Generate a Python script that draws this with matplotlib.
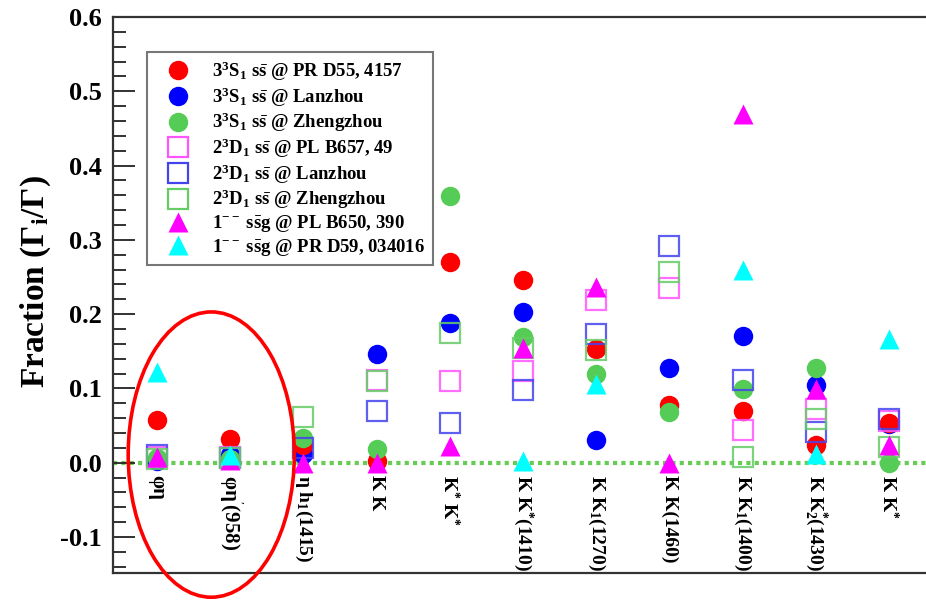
import numpy as np
import matplotlib
matplotlib.use("Agg")
import matplotlib.pyplot as plt
from matplotlib.patches import Ellipse

plt.rcParams['font.family'] = ['Liberation Serif', 'DejaVu Serif']
plt.rcParams['font.weight'] = 'bold'
plt.rcParams['mathtext.fontset'] = 'custom'
plt.rcParams['mathtext.rm'] = 'Liberation Serif:bold'
plt.rcParams['mathtext.it'] = 'Liberation Serif:italic:bold'
plt.rcParams['mathtext.bf'] = 'Liberation Serif:bold'
plt.rcParams['mathtext.default'] = 'rm'

categories = [r"φη", r"φη$^{'}$(958)", r"η h$_{1}$(1415)", r"K K", r"K$^{*}$ K$^{*}$",
              r"K K$^{*}$(1410)", r"K K$_{1}$(1270)", r"K K(1460)", r"K K$_{1}$(1400)",
              r"K K$_{2}^{*}$(1430)", r"K K$^{*}$"]

nan = np.nan
s_pr_d55 = [0.057, 0.032, 0.024, 0.003, 0.270, 0.246, 0.153, 0.078, 0.069, 0.024, 0.054]
s_lanzhou = [0.002, 0.010, 0.012, 0.147, 0.188, 0.203, 0.031, 0.127, 0.170, 0.104, 0.052]
s_zhengzhou = [0.006, 0.005, 0.033, 0.019, 0.359, 0.169, 0.119, 0.068, 0.099, 0.128, 0.000]
d_pl_b657 = [0.008, 0.008, nan, 0.111, 0.110, 0.123, 0.219, 0.235, 0.044, 0.072, 0.056]
d_lanzhou = [0.010, 0.007, 0.020, 0.069, 0.054, 0.098, 0.173, 0.292, 0.112, 0.041, 0.059]
d_zhengzhou = [0.005, 0.007, 0.061, 0.110, 0.175, 0.154, 0.152, 0.257, 0.008, 0.059, 0.021]
g_pl_b650 = [0.008, 0.004, 0.000, 0.000, 0.023, 0.154, 0.237, 0.000, 0.469, 0.099, 0.024]
g_pr_d59 = [0.122, 0.010, nan, nan, nan, 0.003, 0.106, nan, 0.260, 0.012, 0.167]

labels = [r"$\mathrm{3^3S_1\ s\bar{s}}$ @ PR D55, 4157",
          r"$\mathrm{3^3S_1\ s\bar{s}}$ @ Lanzhou",
          r"$\mathrm{3^3S_1\ s\bar{s}}$ @ Zhengzhou",
          r"$\mathrm{2^3D_1\ s\bar{s}}$ @ PL B657, 49",
          r"$\mathrm{2^3D_1\ s\bar{s}}$ @ Lanzhou",
          r"$\mathrm{2^3D_1\ s\bar{s}}$ @ Zhengzhou",
          r"$\mathrm{1^{--}\ s\bar{s}g}$ @ PL B650, 390",
          r"$\mathrm{1^{--}\ s\bar{s}g}$ @ PR D59, 034016"]

x = np.arange(1, len(categories) + 1)

fig = plt.figure(figsize=(9.26, 6.02), dpi=100)
ax = fig.add_axes([113.3 / 926, 1 - 572.7 / 602, 812.2 / 926, 555.7 / 602])

red = '#ff0000'
blue = '#0000ff'
green = '#55cc55'
mag = '#ff00ff'
cyan = '#00ffff'
msc = 14
mss = 14
mst = 14.5

# zero line
ax.axhline(0, color='#66cc55', lw=3, ls=(0, (1, 1)), zorder=1)

handles = {}
handles[1] = ax.plot(x, s_lanzhou, 'o', ms=msc, color=blue, mec='none', zorder=3)[0]
handles[0] = ax.plot(x, s_pr_d55, 'o', ms=msc, color=red, mec='none', zorder=3)[0]
handles[2] = ax.plot(x, s_zhengzhou, 'o', ms=msc, color=green, mec='none', zorder=3)[0]
handles[3] = ax.plot(x, d_pl_b657, 's', ms=mss, mfc='none', mec='#ff55ff', mew=1.6, alpha=0.85, zorder=4)[0]
handles[4] = ax.plot(x, d_lanzhou, 's', ms=mss, mfc='none', mec='#4444ee', mew=1.6, alpha=0.85, zorder=4)[0]
handles[5] = ax.plot(x, d_zhengzhou, 's', ms=mss, mfc='none', mec='#66cc66', mew=1.6, alpha=0.85, zorder=4)[0]
handles[6] = ax.plot(x, g_pl_b650, '^', ms=mst, color=mag, mec='none', zorder=5)[0]
handles[7] = ax.plot(x, g_pr_d59, '^', ms=mst, color=cyan, mec='none', zorder=5)[0]

ax.set_xlim(1 - 43.7 / 73, 11.5)
ax.set_ylim(-0.148, 0.6)

# x category labels just below zero line
for xi, lab in zip(x, categories):
    fs = 15 if lab.startswith('φ') else 14
    ax.text(xi, -0.017, lab, rotation=-90, ha='center', va='top', fontsize=fs,
            fontweight='bold', zorder=6)

ax.set_xticks([])
ax.set_yticks(np.arange(-0.1, 0.61, 0.1))
ax.set_yticks(np.arange(-0.14, 0.6, 0.02), minor=True)
ax.set_yticklabels(['-0.1', '0.0', '0.1', '0.2', '0.3', '0.4', '0.5', '0.6'])
ax.tick_params(axis='y', which='major', direction='in', length=16, width=1.3,
               labelsize=19, pad=8, colors='#222222', labelcolor='black')
ax.tick_params(axis='y', which='minor', direction='in', length=9, width=1.3, colors='#222222')
for lbl in ax.get_yticklabels():
    lbl.set_fontweight('bold')

ax.spines['right'].set_visible(False)
for sp in ['left', 'top', 'bottom']:
    ax.spines[sp].set_linewidth(1.6)
    ax.spines[sp].set_color('#333333')

ax.set_ylabel(r"Fraction ($\Gamma_i/\Gamma$)", fontsize=24, fontweight='bold')
ax.yaxis.set_label_coords(-0.074, 0.523)

leg = ax.legend([handles[i] for i in range(8)], labels, loc='upper left',
                bbox_to_anchor=(0.041, 0.937), borderaxespad=0, numpoints=1,
                fancybox=False, frameon=True, edgecolor='#555555',
                prop={'family': 'Liberation Serif', 'weight': 'bold', 'size': 13.5},
                handlelength=2.5, handletextpad=0.6, labelspacing=0.12,
                borderpad=0.4)
leg.get_frame().set_linewidth(1.5)
leg.set_zorder(7)
for h in leg.legend_handles:
    h.set_alpha(1)

# red ellipse highlighting first two channels
ell = Ellipse((1.74, 0.011), 2.27, 0.384, fill=False, ec='#ff0000', lw=2.6,
              clip_on=False, zorder=8)
ax.add_patch(ell)

fig.savefig('out.png', dpi=100)
